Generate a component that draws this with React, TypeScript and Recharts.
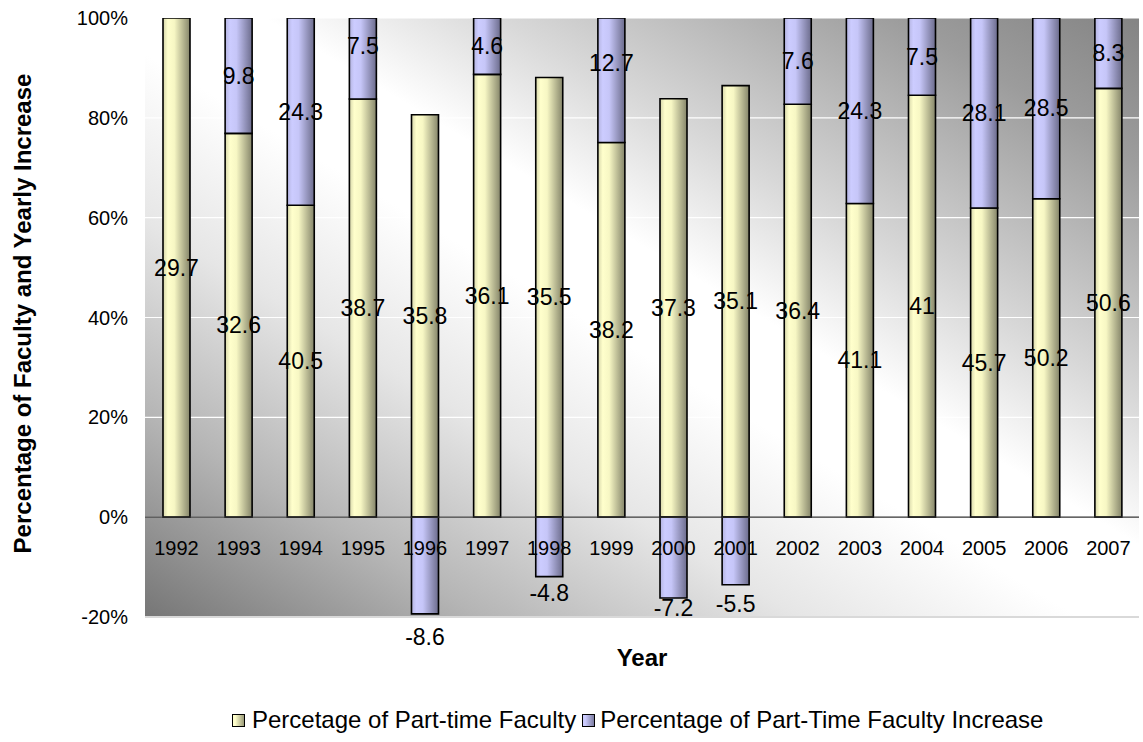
import React from "react";
import {
  BarChart,
  Bar,
  XAxis,
  YAxis,
  CartesianGrid,
  ReferenceLine,
  LabelList,
  Legend,
} from "recharts";

const years = [
  "1992", "1993", "1994", "1995", "1996", "1997", "1998", "1999",
  "2000", "2001", "2002", "2003", "2004", "2005", "2006", "2007",
];
const partTimePct = [
  29.7, 32.6, 40.5, 38.7, 35.8, 36.1, 35.5, 38.2,
  37.3, 35.1, 36.4, 41.1, 41, 45.7, 50.2, 50.6,
];
const yearlyIncrease: (number | null)[] = [
  null, 9.8, 24.3, 7.5, -8.6, 4.6, -4.8, 12.7,
  -7.2, -5.5, 7.6, 24.3, 7.5, 28.1, 28.5, 8.3,
];
const yTicks = [-0.2, 0, 0.2, 0.4, 0.6, 0.8, 1];

const PART_NAME = "Percetage of Part-time Faculty";
const INC_NAME = "Percentage of Part-Time Faculty Increase";

type Row = {
  year: string;
  part: number;
  inc: number | null;
  partRaw: number;
  incRaw: number | null;
};

// 100% stacked like Excel: every value is divided by the column's sum of absolute values
const rows: Row[] = years.map((year, i) => {
  const p = partTimePct[i];
  const inc = yearlyIncrease[i];
  const total = Math.abs(p) + Math.abs(inc ?? 0);
  return {
    year,
    part: p / total,
    inc: inc == null ? null : inc / total,
    partRaw: p,
    incRaw: inc,
  };
});

// some increase labels sit off-centre (pixels, + is down)
const incLabelNudge: Record<string, number> = {
  "1995": -13,
  "1996": 5,
  "1998": -1.5,
  "1999": -17,
  "2000": -8,
  "2001": 1.5,
};

const FONT = "'Liberation Sans', Arial, Helvetica, sans-serif";

const boxOf = (props: any) => {
  const vb = props.viewBox ?? props;
  const x = Number(vb.x);
  const y = Number(vb.y);
  const w = Number(vb.width);
  const h = Number(vb.height);
  return { x, w, top: Math.min(y, y + h), bottom: Math.max(y, y + h) };
};

const PartValueLabel = (props: any) => {
  if (props.value == null) return null;
  const b = boxOf(props);
  return (
    <text
      x={b.x + b.w / 2}
      y={(b.top + b.bottom) / 2}
      textAnchor="middle"
      dominantBaseline="central"
      fontSize={23}
      fill="#000"
    >
      {props.value}
    </text>
  );
};

// category names sit just under the zero line, i.e. under each part-time bar
const YearLabel = (props: any) => {
  const b = boxOf(props);
  return (
    <text
      x={b.x + b.w / 2}
      y={b.bottom + 31}
      textAnchor="middle"
      dominantBaseline="central"
      fontSize={20}
      fill="#000"
    >
      {props.value}
    </text>
  );
};

// value is the whole row here, so the year is known even when empty rows are skipped
const IncValueLabel = (props: any) => {
  const row = props.value as Row | undefined;
  if (!row || row.incRaw == null) return null;
  const b = boxOf(props);
  const nudge = incLabelNudge[row.year] ?? 0;
  const y = row.incRaw < 0 ? b.bottom + 18 + nudge : (b.top + b.bottom) / 2 + nudge;
  return (
    <text
      x={b.x + b.w / 2}
      y={y}
      textAnchor="middle"
      dominantBaseline="central"
      fontSize={23}
      fill="#000"
    >
      {row.incRaw}
    </text>
  );
};

const YTitle = (props: any) => {
  const vb = props.viewBox;
  const cy = vb.y + vb.height / 2 - 4;
  return (
    <text
      x={22}
      y={cy}
      transform={`rotate(-90 22 ${cy})`}
      textAnchor="middle"
      dominantBaseline="central"
      fontSize={24}
      fontWeight="bold"
      fill="#000"
    >
      Percentage of Faculty and Yearly Increase
    </text>
  );
};

const XTitle = (props: any) => {
  const vb = props.viewBox;
  return (
    <text
      x={vb.x + vb.width / 2}
      y={vb.y + 40}
      textAnchor="middle"
      dominantBaseline="central"
      fontSize={24}
      fontWeight="bold"
      fill="#000"
    >
      Year
    </text>
  );
};

const swatch = (bg: string): React.CSSProperties => ({
  display: "inline-block",
  width: 11,
  height: 11,
  border: "1px solid #000",
  background: bg,
});

const LegendRow = () => (
  <div
    style={{
      display: "flex",
      alignItems: "center",
      height: 44,
      paddingLeft: 232,
      fontSize: 24,
      color: "#000",
      fontFamily: FONT,
      whiteSpace: "nowrap",
    }}
  >
    <span style={swatch("linear-gradient(90deg,#ffffcc 20%,#9a9a78)")} />
    <span style={{ marginLeft: 7 }}>{PART_NAME}</span>
    <span style={{ ...swatch("linear-gradient(90deg,#ccccff 20%,#7c7ca0)"), marginLeft: 6 }} />
    <span style={{ marginLeft: 5 }}>{INC_NAME}</span>
  </div>
);

export default function App() {
  return (
    <div style={{ width: 1143, height: 742, fontFamily: FONT, position: "relative" }}>
      <style>{"body{margin:0}"}</style>
      <BarChart
        width={1143}
        height={742}
        data={rows}
        stackOffset="sign"
        margin={{ top: 18, right: 4, bottom: 0, left: 45 }}
      >
        <defs>
          <linearGradient id="plotBg" x1="0" y1="1" x2="1" y2="0">
            <stop offset="0" stopColor="#767676" />
            <stop offset="0.17" stopColor="#b5b5b5" />
            <stop offset="0.33" stopColor="#e6e6e6" />
            <stop offset="0.47" stopColor="#ffffff" />
            <stop offset="0.56" stopColor="#ffffff" />
            <stop offset="0.68" stopColor="#d8d8d8" />
            <stop offset="0.88" stopColor="#9c9c9c" />
            <stop offset="1" stopColor="#848484" />
          </linearGradient>
          <linearGradient id="partFill" x1="0" y1="0" x2="1" y2="0">
            <stop offset="0" stopColor="#d6d6aa" />
            <stop offset="0.18" stopColor="#ffffcc" />
            <stop offset="0.42" stopColor="#f7f7c4" />
            <stop offset="1" stopColor="#85856a" />
          </linearGradient>
          <linearGradient id="incFill" x1="0" y1="0" x2="1" y2="0">
            <stop offset="0" stopColor="#b4b4e0" />
            <stop offset="0.18" stopColor="#ccccff" />
            <stop offset="0.42" stopColor="#c6c6f8" />
            <stop offset="1" stopColor="#6c6c8c" />
          </linearGradient>
        </defs>
        <CartesianGrid
          vertical={false}
          stroke="#ffffff"
          strokeWidth={1.2}
          fill="url(#plotBg)"
          fillOpacity={1}
        />
        <XAxis
          dataKey="year"
          height={81}
          tick={false}
          tickLine={false}
          axisLine={{ stroke: "#d9d9d9", strokeWidth: 2 }}
          label={<XTitle />}
        />
        <YAxis
          width={100}
          domain={[-0.2, 1]}
          ticks={yTicks}
          allowDataOverflow
          axisLine={false}
          tickLine={false}
          tickSize={0}
          tickMargin={17}
          tick={{ fill: "#000", fontSize: 20 }}
          tickFormatter={(v: number) => `${Math.round(v * 100)}%`}
          label={<YTitle />}
        />
        <ReferenceLine y={0} stroke="#333" strokeWidth={1.2} />
        <Legend
          verticalAlign="bottom"
          height={44}
          wrapperStyle={{ left: 0, width: 1143 }}
          content={<LegendRow />}
        />
        <Bar
          dataKey="part"
          name={PART_NAME}
          stackId="a"
          barSize={27}
          fill="url(#partFill)"
          stroke="#000"
          strokeWidth={1.6}
          isAnimationActive={false}
        >
          <LabelList dataKey="partRaw" content={<PartValueLabel />} />
          <LabelList dataKey="year" content={<YearLabel />} />
        </Bar>
        <Bar
          dataKey="inc"
          name={INC_NAME}
          stackId="a"
          barSize={27}
          fill="url(#incFill)"
          stroke="#000"
          strokeWidth={1.6}
          isAnimationActive={false}
        >
          <LabelList dataKey={(r: Row) => r} content={<IncValueLabel />} />
        </Bar>
      </BarChart>
    </div>
  );
}
